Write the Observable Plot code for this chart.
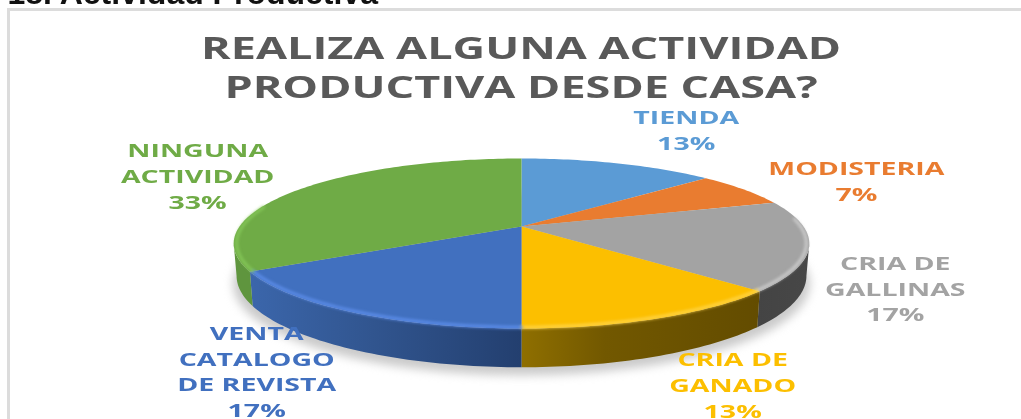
<!DOCTYPE html>
<html>
<head>
<meta charset="utf-8">
<script src="https://cdn.jsdelivr.net/npm/d3@7"></script>
<script src="https://cdn.jsdelivr.net/npm/@observablehq/plot@0.6"></script>
<style>
  html, body { margin: 0; padding: 0; background: #fff; overflow: hidden; }
  #wrap { position: relative; width: 1021px; height: 419px; overflow: hidden; }
  #wrap svg { position: absolute; left: 0; top: 0; filter: blur(0.45px); }
  #frame { position: absolute; left: 7px; top: 8px; right: -5px; bottom: -5px;
           border-left: 3px solid #dcdcdc; border-top: 3px solid #dcdcdc; }
</style>
</head>
<body>
<div id="wrap"><div id="frame"></div></div>
<script>
const heading = "18. Actividad Productiva";
const titleLines = ["REALIZA ALGUNA ACTIVIDAD", "PRODUCTIVA DESDE CASA?"];
const categories = ["TIENDA", "MODISTERIA", "CRIA DE GALLINAS", "CRIA DE GANADO", "VENTA CATALOGO DE REVISTA", "NINGUNA ACTIVIDAD"];
const values = [13.3, 6.7, 17, 13, 16.7, 33.3];
const labelLines = [["TIENDA"], ["MODISTERIA"], ["CRIA DE", "GALLINAS"], ["CRIA DE", "GANADO"], ["VENTA", "CATALOGO", "DE REVISTA"], ["NINGUNA", "ACTIVIDAD"]];
const colors = ["#5b9bd5", "#e97c30", "#a3a3a3", "#fcbf00", "#4170bf", "#6fab46"];
const rimColors = ["#7db5ea", "#ff9a50", "#cfcfcf", "#ffd64d", "#5f90ee", "#86c95a"];

// Layout of the perspective disc and labels
const k = 0.2, wallDrop = 31, wallShrink = 0.99, rx = 282, ry = 81.6, cx = 521, cy = 226;
const labelOffsets = [[68, -45], [113, -20], [86, 19], [74, 42], [-94, 22], [-102, -38]];
const lineStep = 25.7;
const wallFills = ["#3f3f3f", "#3f3f3f", "url(#wallGrey)", "url(#wallYellow)", "url(#wallBlue)", "url(#wallGreen)"];
const bevelFrom = Math.PI * 0.47, bevelTo = Math.PI * 1.58;
const wallFrom = Math.PI - Math.acos(k), wallTo = Math.PI + Math.acos(k);

const total = d3.sum(values);
const cumulative = d3.cumsum(values);
const toAngle = (share) => (share / total) * 2 * Math.PI;
const project = (a, r = 1) => {
  const u = r * Math.sin(a), v = -r * Math.cos(a), w = 1 - k * v;
  return {x: u / w, y: v / w, w};
};
const lower = (a) => {
  const p = project(a);
  return {x: p.x * wallShrink, y: p.y + wallDrop / p.w / ry};
};
const sampleAngles = (a0, a1) => {
  const n = Math.max(4, Math.ceil((a1 - a0) / 0.02));
  return d3.range(n + 1).map((i) => a0 + (a1 - a0) * i / n);
};
const slices = categories.map((name, i) => {
  const a0 = toAngle(cumulative[i] - values[i]), a1 = toAngle(cumulative[i]);
  return {name, i, a0, a1, mid: (a0 + a1) / 2, value: values[i]};
});
const facePoints = slices.flatMap((s) => [
  {name: s.name, x: 0, y: 0},
  ...sampleAngles(s.a0, s.a1).map((a) => ({name: s.name, ...project(a)}))
]);
const wallPoints = (s) => {
  const as = sampleAngles(Math.max(s.a0, wallFrom), Math.min(s.a1, wallTo));
  return [...as.map((a) => project(a)), ...as.slice().reverse().map(lower)];
};
const rimPoints = (s) => sampleAngles(Math.max(s.a0, bevelFrom), Math.min(s.a1, bevelTo)).map((a) => project(a, 0.99));
const shadowPoints = sampleAngles(0, 2 * Math.PI).map((a) => {
  const p = lower(a);
  return {x: p.x * 1.012, y: p.y + 8 / ry};
});

const defs = () => {
  const svgNS = "http://www.w3.org/2000/svg";
  const d = document.createElementNS(svgNS, "defs");
  const gradients = {
    wallBlue: [[0, "#3b66ab"], [0.45, "#31558f"], [1, "#233f6f"]],
    wallYellow: [[0, "#8f6f00"], [0.35, "#725800"], [1, "#634c00"]],
    wallGrey: [[0, "#444444"], [1, "#474747"]],
    wallGreen: [[0, "#5f953e"], [1, "#5f953e"]]
  };
  for (const [id, stops] of Object.entries(gradients)) {
    const g = document.createElementNS(svgNS, "linearGradient");
    g.setAttribute("id", id);
    for (const [o, c] of stops) {
      const st = document.createElementNS(svgNS, "stop");
      st.setAttribute("offset", o);
      st.setAttribute("stop-color", c);
      g.appendChild(st);
    }
    d.appendChild(g);
  }
  return d;
};

const labelFont = {fontFamily: "'Open Sans', sans-serif", fontWeight: 700};
const labelMarks = slices.flatMap((s) => {
  const lines = [...labelLines[s.i], `${Math.round(s.value / total * 100)}%`];
  const [dx, dy] = labelOffsets[s.i];
  return lines.map((line, j) => Plot.text([project(s.mid)], {
    x: "x", y: "y", text: () => line, dx, dy: dy + j * lineStep,
    fill: colors[s.i], fontSize: 18.5, textAnchor: "middle",
    lineAnchor: "middle", className: "wide-label", ...labelFont
  }));
});

const chart = Plot.plot({
  width: 1021, height: 419, margin: 0,
  style: {background: "transparent", overflow: "hidden"},
  x: {axis: null, domain: [-1, 1], range: [cx - rx, cx + rx]},
  y: {axis: null, domain: [-1, 1], range: [cy - ry, cy + ry]},
  color: {domain: categories, range: colors},
  marks: [
    defs,
    Plot.line(shadowPoints, {x: "x", y: "y", fill: "#bdbdbd", stroke: "none", imageFilter: "blur(5px)", fillOpacity: 0.8}),
    ...slices.filter((s) => s.a1 > wallFrom && s.a0 < wallTo).map((s) => Plot.line(wallPoints(s), {x: "x", y: "y", fill: wallFills[s.i], stroke: "none"})),
    Plot.line(facePoints, {x: "x", y: "y", z: "name", fill: "name", stroke: "none"}),
    ...slices.filter((s) => s.a1 > bevelFrom && s.a0 < bevelTo).map((s) => Plot.line(rimPoints(s), {
      x: "x", y: "y", stroke: rimColors[s.i], strokeWidth: 3, imageFilter: "blur(1.5px)", strokeOpacity: 0.9
    })),
    Plot.text([heading], {
      frameAnchor: "top-left", dx: 7, dy: -19, text: (d) => d, fontSize: 32,
      fontFamily: "'Liberation Sans', sans-serif", fontWeight: 700, fill: "#111", lineAnchor: "top"
    }),
    ...titleLines.map((line, j) => Plot.text([line], {
      frameAnchor: "top", dx: 10, dy: 37 + j * 39, text: (d) => d, fontSize: 30,
      fill: "#595959", lineAnchor: "top", className: "wide-title", ...labelFont
    })),
    ...labelMarks
  ]
});
document.getElementById("wrap").appendChild(chart);

const stretch = (selector, factor) => {
  chart.querySelectorAll(selector + " text").forEach((t) => {
    t.setAttribute("textLength", t.getComputedTextLength() * factor);
    t.setAttribute("lengthAdjust", "spacingAndGlyphs");
  });
};
stretch(".wide-title", 1.5);
stretch(".wide-label", 1.54);
</script>
</body>
</html>
